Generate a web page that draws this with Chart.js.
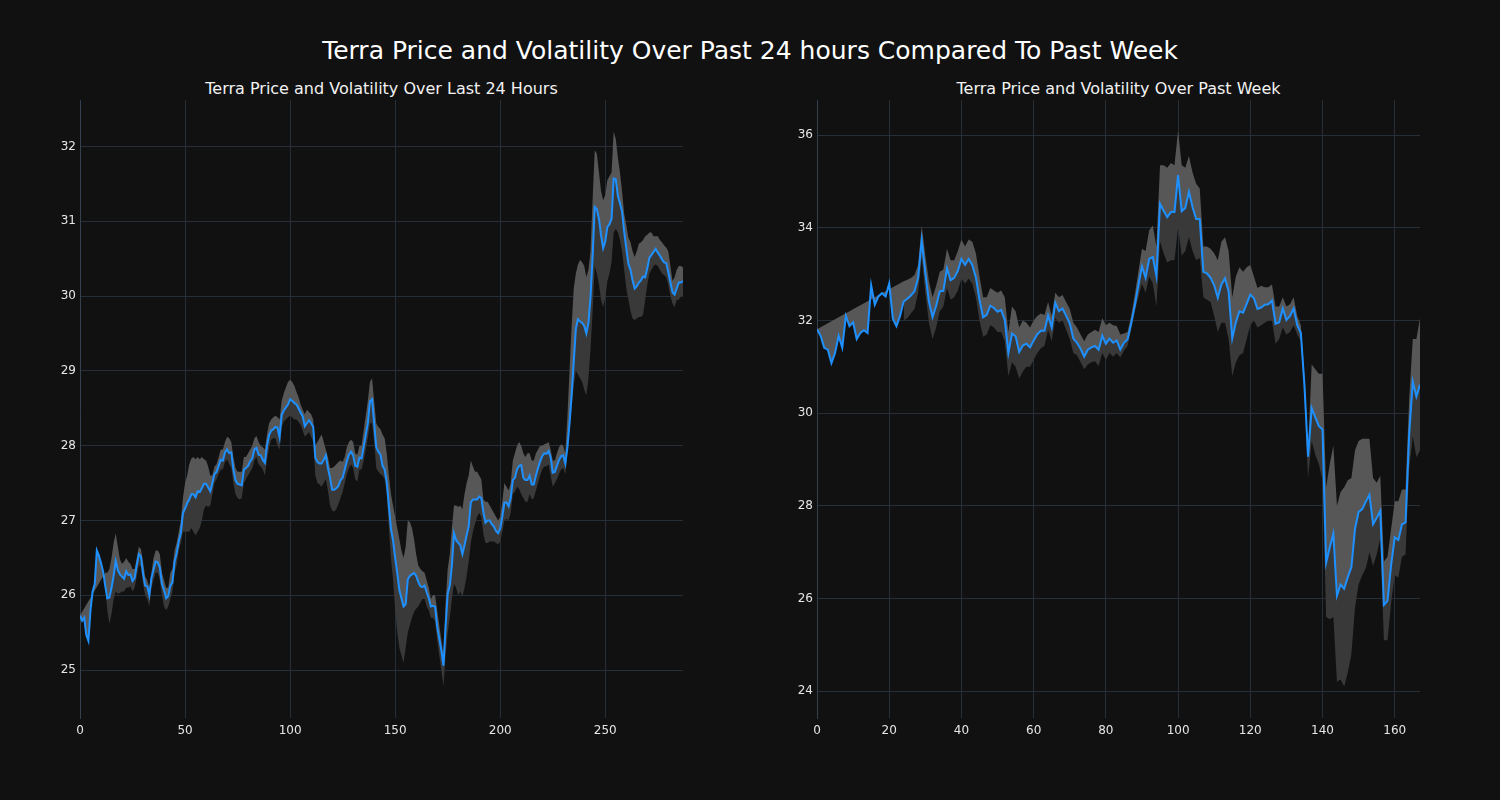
<!DOCTYPE html>
<html>
<head>
<meta charset="utf-8">
<script src="https://cdn.jsdelivr.net/npm/chart.js@4/dist/chart.umd.min.js"></script>
<style>
    body { margin: 0; background: #111111; width: 1500px; height: 800px; overflow: hidden; font-family: "DejaVu Sans", sans-serif; }
    #title { position: absolute; left: 0; top: 36px; width: 1500px; text-align: center; color: #ffffff; font-size: 25px; }
    .sub { position: absolute; top: 79px; width: 603px; text-align: center; color: #f2f2f2; font-size: 16px; }
    canvas { position: absolute; top: 0; }
</style>
</head>
<body>
<div id="title">Terra Price and Volatility Over Past 24 hours Compared To Past Week</div>
<div class="sub" style="left:80px">Terra Price and Volatility Over Last 24 Hours</div>
<div class="sub" style="left:817px">Terra Price and Volatility Over Past Week</div>
<canvas id="dayChart" width="750" height="800" style="left:0"></canvas>
<canvas id="weekChart" width="750" height="800" style="left:750px"></canvas>
<script>
// --- Data: last 24 hours (5 minute steps) ---
const dayPrice = [
    25.73, 25.66, 25.70, 25.47, 25.39, 25.80, 26.05, 26.15, 26.60, 26.53,
    26.43, 26.32, 26.13, 25.96, 25.97, 26.10, 26.26, 26.46, 26.34, 26.28,
    26.25, 26.22, 26.32, 26.27, 26.28, 26.19, 26.23, 26.40, 26.55, 26.52,
    26.29, 26.13, 26.12, 26.00, 26.23, 26.34, 26.45, 26.44, 26.37, 26.15,
    26.07, 25.96, 25.99, 26.13, 26.17, 26.45, 26.56, 26.72, 26.83, 27.10,
    27.16, 27.23, 27.28, 27.35, 27.35, 27.31, 27.39, 27.38, 27.43, 27.49,
    27.49, 27.44, 27.39, 27.50, 27.62, 27.65, 27.73, 27.81, 27.80, 27.91,
    27.95, 27.90, 27.91, 27.68, 27.54, 27.49, 27.48, 27.47, 27.68, 27.70,
    27.73, 27.79, 27.83, 27.95, 27.97, 27.88, 27.87, 27.81, 27.77, 28.00,
    28.14, 28.20, 28.22, 28.25, 28.24, 28.11, 28.41, 28.47, 28.51, 28.55,
    28.62, 28.60, 28.57, 28.55, 28.50, 28.44, 28.39, 28.26, 28.30, 28.34,
    28.30, 28.25, 27.84, 27.78, 27.76, 27.76, 27.81, 27.87, 27.70, 27.57,
    27.41, 27.41, 27.43, 27.46, 27.54, 27.57, 27.68, 27.79, 27.88, 27.92,
    27.87, 27.73, 27.72, 27.84, 27.83, 27.98, 28.14, 28.30, 28.59, 28.62,
    28.30, 27.98, 27.92, 27.88, 27.73, 27.68, 27.51, 27.20, 26.89, 26.73,
    26.50, 26.30, 26.07, 25.96, 25.85, 25.88, 26.21, 26.26, 26.28, 26.30,
    26.26, 26.18, 26.12, 26.11, 26.13, 26.04, 25.96, 25.85, 25.86, 25.85,
    25.58, 25.42, 25.26, 25.06, 25.58, 26.02, 26.13, 26.40, 26.83, 26.74,
    26.70, 26.67, 26.55, 26.67, 26.80, 26.92, 27.24, 27.28, 27.28, 27.28,
    27.32, 27.30, 27.11, 26.97, 27.00, 27.00, 26.95, 26.92, 26.86, 26.83,
    26.89, 27.05, 27.24, 27.24, 27.19, 27.30, 27.54, 27.57, 27.68, 27.73,
    27.74, 27.57, 27.54, 27.54, 27.60, 27.48, 27.48, 27.60, 27.70, 27.79,
    27.86, 27.90, 27.89, 27.93, 27.84, 27.64, 27.65, 27.73, 27.81, 27.86,
    27.87, 27.76, 27.98, 28.30, 28.68, 29.12, 29.56, 29.69, 29.66, 29.64,
    29.60, 29.50, 29.64, 29.99, 30.54, 31.19, 31.16, 31.03, 30.81, 30.64,
    30.73, 30.92, 30.96, 31.03, 31.57, 31.56, 31.34, 31.24, 31.13, 30.86,
    30.64, 30.43, 30.35, 30.21, 30.10, 30.13, 30.18, 30.21, 30.26, 30.25,
    30.37, 30.51, 30.55, 30.59, 30.63, 30.58, 30.54, 30.49, 30.45, 30.44,
    30.32, 30.18, 30.05, 30.02, 30.10, 30.18, 30.18, 30.20
];
const dayUpper = [
    25.73, null, null, null, null, null, null, null, null, null,
    null, null, 26.30, 26.30, 26.35, 26.50, 26.70, 26.83, 26.65, 26.48,
    26.42, 26.45, 26.50, 26.45, 26.42, 26.35, 26.35, 26.50, 26.65, 26.62,
    26.45, 26.25, 26.20, 26.10, 26.30, 26.50, 26.60, 26.60, 26.55, 26.30,
    26.20, 26.10, 26.10, 26.30, 26.35, 26.60, 26.70, 26.85, 27.00, 27.30,
    27.50, 27.60, 27.75, 27.83, 27.85, 27.82, 27.85, 27.82, 27.85, 27.82,
    27.80, 27.72, 27.60, 27.60, 27.72, 27.75, 27.85, 27.95, 27.95, 28.05,
    28.12, 28.10, 28.05, 27.85, 27.70, 27.65, 27.65, 27.65, 27.85, 27.85,
    27.90, 27.95, 28.00, 28.10, 28.13, 28.05, 28.00, 27.98, 27.95, 28.15,
    28.30, 28.35, 28.38, 28.40, 28.38, 28.35, 28.60, 28.70, 28.78, 28.85,
    28.88, 28.85, 28.80, 28.72, 28.65, 28.55, 28.48, 28.42, 28.48, 28.45,
    28.42, 28.35, 28.00, 28.05, 28.10, 28.15, 28.05, 27.95, 27.85, 27.70,
    27.70, 27.72, 27.75, 27.78, 27.80, 27.78, 27.85, 27.98, 28.05, 28.08,
    28.05, 27.90, 27.88, 28.00, 28.00, 28.20, 28.40, 28.60, 28.85, 28.90,
    28.60, 28.30, 28.25, 28.22, 28.15, 28.10, 27.90, 27.60, 27.35, 27.20,
    27.05, 26.90, 26.75, 26.60, 26.50, 26.65, 27.00, 26.98, 26.90, 26.75,
    26.55, 26.40, 26.35, 26.32, 26.30, 26.20, 26.10, 25.95, 26.00, 26.00,
    25.80, 25.60, 25.40, 25.20, 25.90, 26.35, 26.55, 26.90, 27.20, 27.20,
    27.18, 27.20, 27.15, 27.35, 27.50, 27.60, 27.80, 27.72, 27.65, 27.65,
    27.60, 27.55, 27.28, 27.25, 27.25, 27.20, 27.15, 27.10, 27.05, 27.00,
    27.05, 27.25, 27.50, 27.45, 27.40, 27.50, 27.80, 27.90, 28.00, 28.05,
    28.00, 27.90, 27.85, 27.90, 27.90, 27.80, 27.80, 27.90, 27.95, 28.00,
    28.00, 28.02, 28.03, 28.05, 27.95, 27.80, 27.80, 27.90, 27.98, 28.02,
    28.00, 27.90, 28.40, 29.00, 29.60, 30.10, 30.30, 30.42, 30.48, 30.45,
    30.40, 30.25, 30.35, 30.60, 31.30, 31.95, 31.90, 31.65, 31.40, 31.28,
    31.35, 31.55, 31.60, 31.65, 32.20, 32.10, 31.85, 31.65, 31.40, 31.10,
    30.95, 30.78, 30.72, 30.60, 30.52, 30.60, 30.70, 30.72, 30.75, 30.80,
    30.82, 30.85, 30.85, 30.80, 30.80, 30.80, 30.75, 30.72, 30.68, 30.65,
    30.60, 30.40, 30.20, 30.25, 30.35, 30.40, 30.40, 30.38
];
const dayLower = [
    null, null, null, null, null, null, null, null, null, null,
    null, null, 26.10, 25.80, 25.62, 25.75, 25.95, 26.05, 26.02, 26.03,
    26.05, 26.05, 26.10, 26.10, 26.12, 26.05, 26.10, 26.25, 26.40, 26.38,
    26.15, 26.00, 25.95, 25.85, 26.10, 26.20, 26.30, 26.30, 26.20, 26.00,
    25.85, 25.80, 25.85, 25.95, 26.05, 26.30, 26.40, 26.60, 26.70, 26.85,
    26.85, 26.85, 26.85, 26.90, 26.85, 26.80, 26.85, 26.90, 27.00, 27.15,
    27.20, 27.18, 27.20, 27.35, 27.50, 27.55, 27.62, 27.68, 27.68, 27.78,
    27.82, 27.75, 27.70, 27.50, 27.35, 27.30, 27.28, 27.30, 27.50, 27.55,
    27.60, 27.65, 27.70, 27.80, 27.85, 27.75, 27.72, 27.68, 27.60, 27.80,
    27.98, 28.08, 28.10, 28.10, 28.00, 27.95, 28.25, 28.32, 28.35, 28.38,
    28.40, 28.38, 28.35, 28.35, 28.32, 28.28, 28.20, 28.12, 28.15, 28.18,
    28.12, 28.05, 27.60, 27.50, 27.48, 27.45, 27.50, 27.55, 27.40, 27.20,
    27.13, 27.12, 27.15, 27.22, 27.30, 27.38, 27.50, 27.62, 27.70, 27.75,
    27.70, 27.55, 27.52, 27.68, 27.68, 27.80, 27.95, 28.10, 28.30, 28.30,
    28.05, 27.70, 27.65, 27.62, 27.60, 27.55, 27.35, 26.90, 26.50, 26.20,
    25.80, 25.50, 25.30, 25.20, 25.10, 25.30, 25.50, 25.60, 25.70, 25.78,
    25.82, 25.85, 25.90, 25.95, 25.95, 25.85, 25.80, 25.70, 25.70, 25.65,
    25.40, 25.20, 25.00, 24.78, 25.20, 25.50, 25.70, 25.95, 26.15, 26.10,
    26.00, 26.05, 25.98, 26.10, 26.25, 26.45, 26.70, 26.85, 26.95, 27.05,
    27.10, 27.05, 26.82, 26.70, 26.70, 26.72, 26.72, 26.72, 26.70, 26.68,
    26.72, 26.85, 27.00, 27.02, 27.00, 27.10, 27.35, 27.38, 27.45, 27.42,
    27.35, 27.30, 27.25, 27.25, 27.35, 27.28, 27.30, 27.40, 27.50, 27.60,
    27.68, 27.72, 27.72, 27.75, 27.60, 27.45, 27.50, 27.55, 27.62, 27.68,
    27.70, 27.62, 27.90, 28.20, 28.50, 28.80, 29.00, 28.95, 28.90, 28.85,
    28.75, 28.67, 28.90, 29.30, 29.80, 30.40, 30.30, 30.15, 29.95, 29.85,
    29.98, 30.20, 30.30, 30.45, 30.85, 30.90, 30.85, 30.75, 30.60, 30.35,
    30.10, 29.95, 29.80, 29.70, 29.68, 29.70, 29.72, 29.72, 29.75, 29.95,
    30.15, 30.30, 30.35, 30.40, 30.42, 30.40, 30.35, 30.30, 30.28, 30.25,
    30.15, 30.00, 29.90, 29.85, 29.95, 29.95, 30.00, 30.00
];
const dayXTicks = [0, 50, 100, 150, 200, 250];
const dayYTicks = [25, 26, 27, 28, 29, 30, 31, 32];

// --- Data: past week (hourly) ---
const weekPrice = [
    31.81, 31.67, 31.41, 31.37, 31.08, 31.30, 31.67, 31.41, 32.10, 31.88,
    31.96, 31.60, 31.73, 31.79, 31.73, 32.76, 32.34, 32.52, 32.59, 32.52,
    32.80, 32.04, 31.88, 32.10, 32.41, 32.47, 32.54, 32.63, 32.92, 33.73,
    33.02, 32.41, 32.07, 32.32, 32.63, 32.64, 33.13, 32.87, 32.92, 33.07,
    33.33, 33.20, 33.33, 33.20, 32.93, 32.45, 32.07, 32.12, 32.32, 32.27,
    32.19, 32.23, 32.01, 31.30, 31.72, 31.66, 31.32, 31.46, 31.50, 31.42,
    31.57, 31.70, 31.78, 31.78, 32.11, 31.85, 32.38, 32.20, 32.26, 32.10,
    31.94, 31.61, 31.52, 31.39, 31.22, 31.37, 31.42, 31.45, 31.37, 31.67,
    31.50, 31.61, 31.52, 31.57, 31.37, 31.52, 31.59, 31.93, 32.32, 32.76,
    33.17, 32.92, 33.33, 33.37, 32.96, 34.52, 34.37, 34.23, 34.34, 34.34,
    35.14, 34.36, 34.43, 34.78, 34.45, 34.19, 34.19, 33.05, 33.02, 32.92,
    32.76, 32.49, 32.78, 32.91, 32.63, 31.61, 31.96, 32.20, 32.17, 32.36,
    32.56, 32.48, 32.25, 32.28, 32.34, 32.35, 32.43, 31.93, 31.96, 32.26,
    32.01, 32.10, 32.26, 31.90, 31.73, 30.60, 29.06, 30.11, 29.91, 29.72,
    29.65, 26.77, 27.10, 27.40, 26.06, 26.30, 26.21, 26.46, 26.68, 27.50,
    27.87, 27.93, 28.09, 28.24, 27.60, 27.74, 27.89, 25.86, 25.95, 26.72,
    27.32, 27.26, 27.60, 27.64, 29.54, 30.68, 30.36, 30.62
];
const weekUpper = [
    31.81, null, null, null, null, null, null, null, null, null,
    null, null, null, null, null, null, null, null, null, null,
    null, null, null, null, 32.85, 32.88, 32.92, 32.98, 33.20, 34.05,
    33.40, 32.85, 32.50, 32.75, 33.05, 33.10, 33.55, 33.30, 33.30, 33.50,
    33.75, 33.60, 33.75, 33.70, 33.45, 32.95, 32.50, 32.50, 32.70, 32.65,
    32.60, 32.65, 32.50, 31.75, 32.30, 32.20, 31.85, 32.00, 31.95, 31.85,
    32.00, 32.10, 32.15, 32.12, 32.40, 32.10, 32.60, 32.50, 32.55, 32.40,
    32.25, 31.95, 31.85, 31.70, 31.55, 31.70, 31.75, 31.80, 31.75, 32.05,
    31.90, 31.95, 31.90, 31.88, 31.70, 31.72, 31.75, 32.10, 32.55, 33.05,
    33.55, 33.50, 33.95, 34.05, 33.60, 35.35, 35.35, 35.30, 35.40, 35.35,
    36.10, 35.35, 35.30, 35.55, 35.20, 34.95, 34.85, 33.60, 33.60, 33.55,
    33.45, 33.30, 33.70, 33.80, 33.50, 32.50, 32.95, 33.15, 33.05, 33.15,
    33.20, 32.95, 32.70, 32.75, 32.72, 32.72, 32.78, 32.30, 32.30, 32.50,
    32.30, 32.35, 32.50, 32.10, 31.90, 30.80, 29.20, 31.05, 30.95, 30.85,
    30.85, 28.40, 28.90, 29.30, 28.00, 28.30, 28.40, 28.55, 28.60, 29.20,
    29.40, 29.45, 29.45, 29.45, 28.60, 28.50, 28.65, 26.80, 26.90, 27.50,
    28.10, 28.10, 28.35, 28.35, 30.30, 31.60, 31.60, 32.05
];
const weekLower = [
    null, null, null, null, null, null, null, null, null, null,
    null, null, null, null, null, null, null, null, null, null,
    null, null, null, null, 32.00, 32.05, 32.15, 32.25, 32.60, 33.35,
    32.60, 31.95, 31.60, 31.85, 32.20, 32.30, 32.70, 32.45, 32.50, 32.65,
    32.90, 32.80, 32.90, 32.80, 32.50, 32.00, 31.65, 31.70, 31.90, 31.85,
    31.75, 31.75, 31.55, 30.80, 31.10, 31.00, 30.75, 30.90, 31.00, 31.00,
    31.15, 31.30, 31.40, 31.45, 31.80, 31.55, 32.05, 31.95, 32.00, 31.80,
    31.60, 31.30, 31.25, 31.10, 30.95, 31.05, 31.10, 31.12, 31.02, 31.30,
    31.15, 31.30, 31.22, 31.30, 31.20, 31.35, 31.45, 31.80, 32.20, 32.50,
    32.80, 32.60, 32.95, 32.80, 32.30, 33.70, 33.45, 33.25, 33.30, 33.30,
    34.00, 33.40, 33.50, 33.80, 33.50, 33.30, 33.35, 32.50, 32.45, 32.40,
    32.10, 31.75, 31.95, 31.95, 31.60, 30.80, 31.10, 31.25, 31.30, 31.60,
    31.90, 32.00, 31.85, 31.90, 31.95, 32.00, 32.00, 31.50, 31.60, 31.85,
    31.70, 31.75, 31.90, 31.70, 31.55, 30.30, 28.60, 29.40, 29.10, 28.90,
    28.55, 25.60, 25.55, 25.60, 24.20, 24.25, 24.10, 24.40, 24.80, 25.80,
    26.30, 26.50, 26.65, 27.00, 26.70, 26.95, 27.30, 25.10, 25.10, 25.90,
    26.50, 26.45, 26.90, 26.95, 28.80, 29.50, 29.05, 29.20
];
const weekXTicks = [0, 20, 40, 60, 80, 100, 120, 140, 160];
const weekYTicks = [24, 26, 28, 30, 32, 34, 36];

// --- Chart Setup ---
const gridColor = '#262e38';
const tickFont = { family: 'DejaVu Sans', size: 12 };

function toPoints(arr) {
    return arr.map((v, i) => ({ x: i, y: v }));
}

function makeChart(id, price, upper, lower, xTicks, yTicks, yMin, yMax, padLeft, padRight) {
    const ctx = document.getElementById(id).getContext('2d');
    return new Chart(ctx, {
        type: 'line',
        data: {
            datasets: [{
                data: toPoints(upper),
                borderColor: 'rgba(0,0,0,0)',
                borderWidth: 0,
                backgroundColor: '#575757',
                pointRadius: 0,
                fill: 1,
                spanGaps: true,
                order: 2
            }, {
                data: toPoints(price),
                borderColor: '#1e90ff',
                borderWidth: 2,
                pointRadius: 0,
                fill: false,
                order: 0
            }, {
                data: toPoints(lower),
                borderColor: 'rgba(0,0,0,0)',
                borderWidth: 0,
                backgroundColor: '#393939',
                pointRadius: 0,
                fill: 1,
                order: 1
            }]
        },
        options: {
            responsive: false,
            animation: false,
            devicePixelRatio: 1,
            layout: { padding: { left: padLeft, right: padRight, top: 100, bottom: 0 } },
            plugins: { legend: { display: false }, tooltip: { enabled: false } },
            scales: {
                x: {
                    type: 'linear',
                    min: 0,
                    max: price.length - 1,
                    afterBuildTicks: (scale) => { scale.ticks = xTicks.map(v => ({ value: v })); },
                    afterFit: (scale) => { scale.height = 82; },
                    ticks: { color: '#e6e6e6', font: tickFont, padding: 6, maxRotation: 0 },
                    grid: { color: gridColor, drawTicks: false },
                    border: { display: false }
                },
                y: {
                    type: 'linear',
                    min: yMin,
                    max: yMax,
                    afterBuildTicks: (scale) => { scale.ticks = yTicks.map(v => ({ value: v })); },
                    afterFit: (scale) => { scale.width = 40; },
                    ticks: { color: '#e6e6e6', font: tickFont, padding: 4 },
                    grid: { color: gridColor, drawTicks: false },
                    border: { display: true, color: '#33404e', width: 1 }
                }
            }
        }
    });
}

makeChart('dayChart', dayPrice, dayUpper, dayLower, dayXTicks, dayYTicks, 24.36, 32.62, 40, 67);
makeChart('weekChart', weekPrice, weekUpper, weekLower, weekXTicks, weekYTicks, 23.42, 36.76, 27, 80);
</script>
</body>
</html>
